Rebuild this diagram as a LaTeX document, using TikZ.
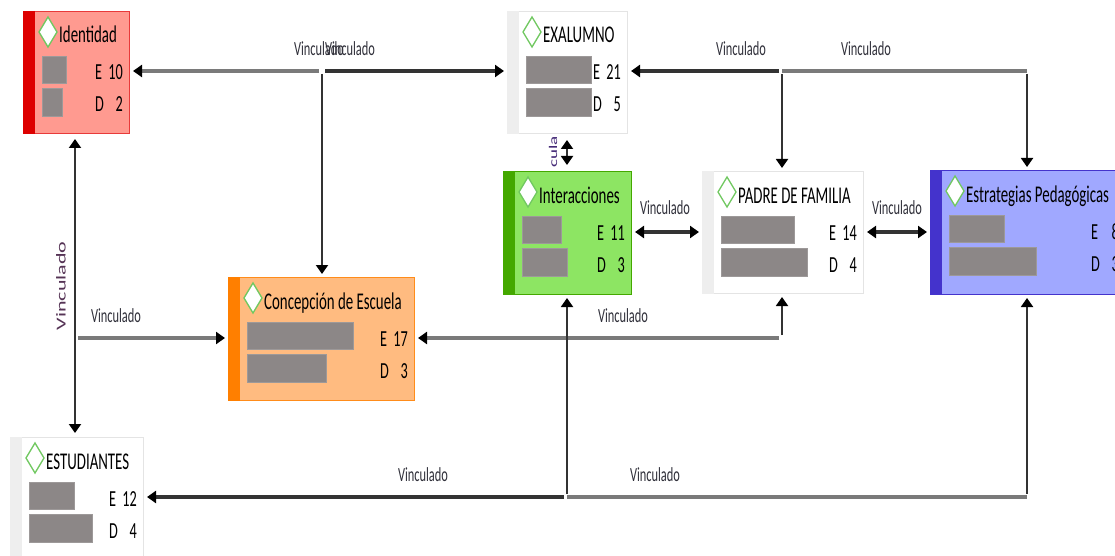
\documentclass[tikz,border=0pt]{standalone}
\usepackage{fontspec}
\setmainfont{Carlito}[FakeStretch=0.62]
\newfontfamily\rectafont{Carlito}
\usetikzlibrary{calc}
\usetikzlibrary{arrows.meta}
\definecolor{idfondo}{HTML}{FF9A90}
\definecolor{idbarra}{HTML}{DD0000}
\definecolor{idborde}{HTML}{E83A3A}
\definecolor{blfondo}{HTML}{FFFFFF}
\definecolor{blbarra}{HTML}{EEEEEE}
\definecolor{blborde}{HTML}{E4E4E4}
\definecolor{infondo}{HTML}{8DE563}
\definecolor{inbarra}{HTML}{44A800}
\definecolor{esfondo}{HTML}{A0A8FF}
\definecolor{esbarra}{HTML}{4433CC}
\definecolor{cofondo}{HTML}{FFBB80}
\definecolor{cobarra}{HTML}{FF7F00}
\definecolor{coborde}{HTML}{FF8C1A}
\definecolor{rombo}{HTML}{70C860}
\definecolor{dato}{HTML}{8C8787}
\definecolor{gris}{HTML}{7A7A7A}
\definecolor{oscuro}{HTML}{333333}
\definecolor{vinc}{HTML}{30303A}
\definecolor{morado}{HTML}{553355}

\begin{document}
\begin{tikzpicture}[x=1pt, y=-1pt,
 caja/.style={draw, line width=1pt, inner sep=0pt, anchor=north west},
 rotulo/.style={font=\fontsize{20}{22}\selectfont, text=vinc, inner sep=0pt},
 lgris/.style={draw=gris, line width=3.6pt},
 losc/.style={draw=oscuro, line width=3.6pt},
 fino/.style={draw=oscuro, line width=1.9pt},
 punta/.style={shorten >=3pt, shorten <=3pt},
 >={Triangle[length=9pt,width=12pt,color=black]}]
\useasboundingbox (0,0) rectangle (1115,556);
\fill[white] (0,0) rectangle (1115,556);
\clip (0,0) rectangle (1115,556);

\foreach \nom/\bx/\by/\bw/\bh/\cfondo/\cbarra/\cborde/\titulo/\numE/\numD/\anchoA/\anchoB in {
 ident/23/11/106/122/idfondo/idbarra/idborde/Identidad/10/2/24/20,
 exal/507/11/120/122/blfondo/blbarra/blborde/EXALUMNO/21/5/65/65,
 inter/503/171/128/123/infondo/inbarra/inbarra/Interacciones/11/3/39/45,
 padre/702/171/161/122/blfondo/blbarra/blborde/PADRE DE FAMILIA/14/4/73/86,
 estr/930/170/195/124/esfondo/esbarra/esbarra/Estrategias Pedagógicas/8/3/55/87,
 concep/228/277/186/123/cofondo/cobarra/coborde/Concepción de Escuela/17/3/106/79,
 estud/10/437/133/122/blfondo/blbarra/blborde/ESTUDIANTES/12/4/45/63} {
 \node[caja, fill=\cfondo, draw=\cborde, minimum width=\bw*1pt, minimum height=\bh*1pt] (\nom) at (\bx,\by) {};
 \fill[\cbarra] (\nom.north west) rectangle ([xshift=12pt]\nom.south west);
 \draw[rombo, fill=white, line width=1.3pt] (\bx+25,\by+6) -- (\bx+34,\by+21) -- (\bx+25,\by+36) -- (\bx+16,\by+21) -- cycle;
 \node[anchor=base west, inner sep=0pt, font=\fontsize{24}{26}\selectfont] (\nom-t) at (\bx+36,\by+32) {\titulo};
 \draw[fill=dato, draw=dato!85!white] (\bx+19,\by+45) rectangle ++(\anchoA,27);
 \draw[fill=dato, draw=dato!85!white] (\bx+19,\by+77) rectangle ++(\anchoB,28);
 \node[anchor=base west, inner sep=0pt, font=\fontsize{23}{25}\selectfont] (\nom-le) at (\bx+\bw-34,\by+69) {E};
 \node[anchor=base east, inner sep=0pt, font=\fontsize{23}{25}\selectfont] (\nom-ne) at (\bx+\bw-6,\by+69) {\numE};
 \node[anchor=base west, inner sep=0pt, font=\fontsize{23}{25}\selectfont] (\nom-ld) at (\bx+\bw-34,\by+101) {D};
 \node[anchor=base east, inner sep=0pt, font=\fontsize{23}{25}\selectfont] (\nom-nd) at (\bx+\bw-6,\by+101) {\numD};
}

\coordinate (a1) at (322,71);
\coordinate (b1) at (782,71);
\coordinate (b2) at (1027,71);
\coordinate (c1) at (567,150);
\coordinate (d1) at (665,232);
\coordinate (d2) at (897,232);
\coordinate (e1) at (75,338);
\coordinate (f1) at (782,338);
\coordinate (g1) at (567,497);
\coordinate (g2) at (1027,497);

\draw[lgris, ->, punta] (a1) -- (ident.east |- a1);
\draw[losc, ->, punta] (a1) -- (exal.west |- a1);
\draw[fino, ->, punta] (a1) -- (concep.north -| a1);
\draw[losc, ->, punta] (b1) -- (exal.east |- b1);
\draw[lgris] (b1) -- (b2);
\draw[fino, ->, punta] (b1) -- (padre.north -| b1);
\draw[fino, ->, punta] (b2) -- (estr.north -| b2);
\draw[fino, <->, shorten >=6pt, shorten <=6pt] (exal.south -| c1) -- (inter.north -| c1);
\draw[losc, <->, punta] (inter.east |- d1) -- (padre.west |- d1);
\draw[losc, <->, punta] (padre.east |- d2) -- (estr.west |- d2);
\draw[fino, <->, shorten >=4pt, shorten <=5pt] (ident.south -| e1) -- (estud.north -| e1);
\draw[lgris, ->, punta] (e1) -- (concep.west |- e1);
\draw[lgris, ->, punta] (f1) -- (concep.east |- f1);
\draw[fino, ->, punta] (f1) -- (padre.south -| f1);
\draw[losc, ->, punta] (g1) -- (estud.east |- g1);
\draw[lgris] (g1) -- (g2);
\draw[fino, ->, punta] (g1) -- (inter.south -| g1);
\draw[fino, ->, punta] (g2) -- (estr.south -| g2);

\foreach \px/\py [count=\i] in {319/49, 350/49, 741/49, 866/49, 665/208, 897/208, 116/316, 623/316, 423/475, 655/475}
 \node[rotulo] (v\i) at (\px,\py) {Vinculado};
\node[rotate=90, inner sep=0pt, text=morado, font=\rectafont\fontsize{22}{24}\selectfont] (v11) at (61,286) {\scalebox{1}[0.62]{Vinculado}};
\node[rotate=90, inner sep=0pt, text=morado!80!blue, font=\rectafont\fontsize{19}{21}\selectfont] (v12) at (553,152) {\scalebox{1}[0.62]{cula}};
\end{tikzpicture}
\end{document}
